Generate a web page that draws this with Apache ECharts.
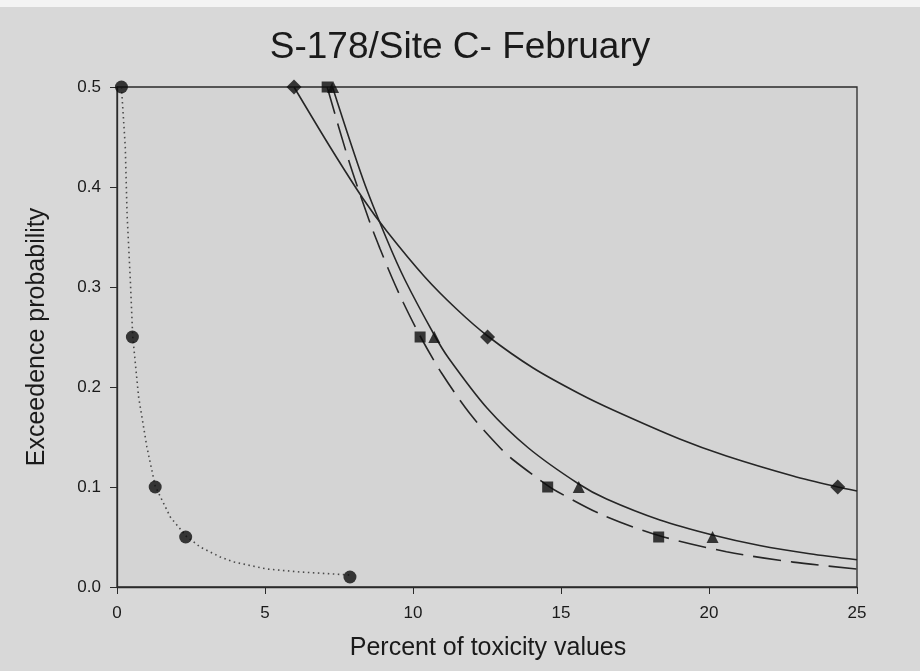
<!DOCTYPE html>
<html>
<head>
<meta charset="utf-8">
<script src="https://cdn.jsdelivr.net/npm/echarts@6/dist/echarts.min.js"></script>
<style>
html,body{margin:0;padding:0;background:#ffffff;}
#chart{width:920px;height:671px;}
</style>
</head>
<body>
<div id="chart"></div>
<script>
// ---- data ----
const titleText = "S-178/Site C- February";
const xAxisName = "Percent of toxicity values";
const yAxisName = "Exceedence probability";
const xTicks = [0, 5, 10, 15, 20, 25];
const yTicks = [0.0, 0.1, 0.2, 0.3, 0.4, 0.5];

// observed points
const circlePts   = [[0.15, 0.5], [0.52, 0.25], [1.29, 0.1], [2.32, 0.05], [7.87, 0.01]];
const diamondPts  = [[5.98, 0.5], [12.52, 0.25], [24.35, 0.1]];
const squarePts   = [[7.1, 0.5], [10.24, 0.25], [14.55, 0.1], [18.3, 0.05]];
const trianglePts = [[7.3, 0.5], [10.72, 0.25], [15.6, 0.1], [20.12, 0.05]];

// fitted curves
const circleFit = [[0.15, 0.5], [0.28, 0.44], [0.34, 0.373], [0.45, 0.307], [0.53, 0.251], [0.73, 0.19], [1.01, 0.14], [1.29, 0.101], [1.8, 0.07], [2.33, 0.051], [2.81, 0.04], [3.49, 0.03], [3.94, 0.025], [5.06, 0.018], [6.19, 0.015], [7.87, 0.012]];
const diamondFit = [[5.98, 0.5], [7.2, 0.44], [8.32, 0.388], [9.11, 0.356], [10.4, 0.31], [11.47, 0.278], [12.52, 0.251], [14.06, 0.219], [15.64, 0.193], [16.76, 0.177], [19.01, 0.148], [20.59, 0.131], [22.84, 0.111], [24.35, 0.1], [25, 0.096]];
const triangleFit = [[7.28, 0.5], [8.32, 0.407], [9.11, 0.348], [9.73, 0.307], [10.72, 0.252], [11.2, 0.229], [12.5, 0.179], [13.9, 0.139], [15.6, 0.103], [16.54, 0.088], [18.34, 0.067], [20.12, 0.052], [21.71, 0.0415], [23.4, 0.0333], [25, 0.0273]];
const squareFit = [[7.1, 0.5], [7.82, 0.4275], [8.55, 0.364], [8.89, 0.338], [9.28, 0.31], [9.67, 0.2845], [10.24, 0.251], [10.97, 0.2137], [11.92, 0.1734], [12.94, 0.1393], [13.39, 0.127], [14.55, 0.1014], [14.9, 0.095], [16.37, 0.0725], [18.3, 0.0515], [20.59, 0.0353], [22.84, 0.0249], [25, 0.018]];

const chart = echarts.init(document.getElementById('chart'), null, {renderer: 'canvas'});
const ink = '#1a1a1a';
const lineInk = '#262626';
const font = 'Liberation Sans, Arial, sans-serif';

function curve(data, type, width, color, sm) {
  return {
    type: 'line', data: data, showSymbol: false, smooth: sm, z: 3,
    lineStyle: {color: color, width: width, type: type}, silent: true
  };
}
function marks(data, symbol, size) {
  return {
    type: 'scatter', data: data, symbol: symbol, symbolSize: size, clip: false, z: 5,
    itemStyle: {color: '#0d0d0d'}, silent: true
  };
}

chart.setOption({
  animation: false,
  backgroundColor: '#d8d8d8',
  title: {
    text: titleText, left: 'center', top: 24,
    textStyle: {fontFamily: font, fontSize: 37, fontWeight: 'normal', color: ink}
  },
  graphic: [
    {type: 'rect', left: 0, top: 0, shape: {width: 920, height: 7}, style: {fill: '#f4f4f4'}},
    {type: 'text', x: 488, y: 636, style: {text: xAxisName, font: '25px ' + font, fill: ink, align: 'center', verticalAlign: 'top'}},
    {type: 'text', x: 25, y: 337, rotation: Math.PI / 2, style: {text: yAxisName, font: '25px ' + font, fill: ink, align: 'center', verticalAlign: 'top'}}
  ],
  grid: {left: 117, right: 63, top: 87, bottom: 84, show: true, backgroundColor: '#d4d4d4', borderColor: '#2a2a2a', borderWidth: 1.3},
  xAxis: {
    type: 'value', min: xTicks[0], max: xTicks[xTicks.length - 1], interval: 5,
    axisLine: {show: true, lineStyle: {color: '#2a2a2a', width: 1.3}},
    axisTick: {show: true, length: 7, lineStyle: {color: '#2a2a2a'}},
    splitLine: {show: false},
    axisLabel: {fontFamily: font, fontSize: 17, color: ink, margin: 18}
  },
  yAxis: {
    type: 'value', min: yTicks[0], max: yTicks[yTicks.length - 1], interval: 0.1,
    axisLine: {show: true, lineStyle: {color: '#2a2a2a', width: 1.3}},
    axisTick: {show: true, length: 7, lineStyle: {color: '#2a2a2a'}},
    splitLine: {show: false},
    axisLabel: {fontFamily: font, fontSize: 17, color: ink, margin: 16, formatter: v => v.toFixed(1)}
  },
  series: [
    curve(circleFit, [1.5, 3.5], 1.6, '#4a4a4a', false),
    curve(diamondFit, 'solid', 1.6, lineInk, 0.3),
    curve(triangleFit, 'solid', 1.6, lineInk, 0.3),
    curve(squareFit, [28, 10], 1.6, lineInk, 0.3),
    marks(circlePts, 'circle', 13),
    marks(diamondPts, 'diamond', 15),
    marks(squarePts, 'rect', 11),
    marks(trianglePts, 'triangle', 12)
  ]
});
</script>
</body>
</html>
